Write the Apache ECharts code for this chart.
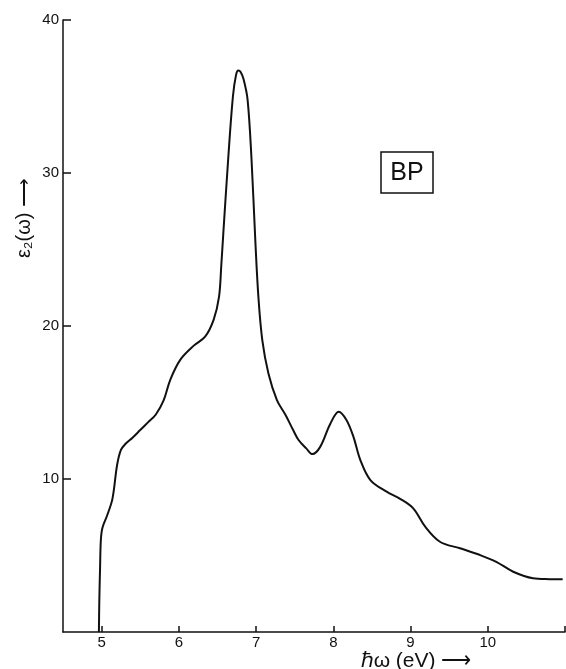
<!DOCTYPE html>
<html>
<head>
<meta charset="utf-8">
<script src="https://cdn.jsdelivr.net/npm/echarts@6/dist/echarts.min.js"></script>
<style>html,body{margin:0;padding:0;background:#fff}#c{width:566px;height:669px}</style>
</head>
<body>
<div id="c"></div>
<script>
// photon energy (eV)
const energy = [4.965, 4.97, 4.98, 4.99, 5.01, 5.07, 5.14, 5.20, 5.25, 5.31, 5.40, 5.50, 5.60, 5.70, 5.80, 5.89, 6.02, 6.19, 6.34, 6.45, 6.52, 6.55, 6.575, 6.64, 6.70, 6.74, 6.77, 6.80, 6.84, 6.89, 6.94, 6.99, 7.03, 7.08, 7.16, 7.27, 7.38, 7.48, 7.55, 7.65, 7.73, 7.83, 7.96, 8.07, 8.17, 8.26, 8.35, 8.48, 8.69, 8.87, 9.035, 9.19, 9.38, 9.64, 9.90, 10.11, 10.33, 10.585, 10.80, 10.97];
// epsilon_2
const eps2 = [0, 2.0, 4.2, 6.0, 6.8, 7.6, 8.7, 10.9, 11.9, 12.3, 12.7, 13.2, 13.7, 14.2, 15.1, 16.5, 17.8, 18.7, 19.3, 20.4, 21.9, 24.0, 26.0, 31.0, 35.0, 36.4, 36.7, 36.6, 36.1, 34.8, 31.0, 25.6, 21.9, 19.1, 16.9, 15.16, 14.2, 13.2, 12.55, 12.0, 11.63, 12.1, 13.6, 14.4, 13.86, 12.77, 11.24, 9.93, 9.17, 8.69, 8.08, 6.88, 5.90, 5.47, 5.03, 4.59, 3.94, 3.51, 3.45, 3.44];
const xTickLabels = [5, 6, 7, 8, 9, 10];
const xTicks = [5, 6, 7, 8, 9, 10, 11];
const yTickLabels = [10, 20, 30, 40];
const sampleLabel = 'BP';

const chart = echarts.init(document.getElementById('c'), null, {renderer: 'canvas'});
const FONT = 'Liberation Sans, Arial, sans-serif';
chart.setOption({
  animation: false,
  backgroundColor: '#fff',
  grid: {left: 63, right: 1, top: 20, bottom: 37, containLabel: false},
  xAxis: {
    type: 'value', min: 4.5, max: 11,
    axisLine: {show: true, onZero: false, lineStyle: {color: '#111', width: 1.5}},
    axisTick: {show: true, inside: true, length: 6, customValues: xTicks, lineStyle: {color: '#111', width: 1.5}},
    axisLabel: {show: true, customValues: xTickLabels, color: '#111', fontSize: 15, fontFamily: FONT, margin: 3},
    splitLine: {show: false}
  },
  yAxis: {
    type: 'value', min: 0, max: 40, interval: 10,
    axisLine: {show: true, onZero: false, lineStyle: {color: '#111', width: 1.5}},
    axisTick: {show: true, inside: true, length: 8, customValues: yTickLabels, lineStyle: {color: '#111', width: 1.5}},
    axisLabel: {show: true, customValues: yTickLabels, color: '#111', fontSize: 15, fontFamily: FONT, margin: 4},
    splitLine: {show: false}
  },
  series: [{
    type: 'line',
    data: energy.map((e, i) => [e, eps2[i]]),
    showSymbol: false,
    smooth: 0.35,
    lineStyle: {color: '#111', width: 2}
  }],
  graphic: [
    {type: 'rect', shape: {x: 381, y: 152, width: 52, height: 41}, style: {fill: 'none', stroke: '#111', lineWidth: 1.5}},
    {type: 'text', x: 407, y: 173, style: {text: sampleLabel, font: '25px ' + FONT, fill: '#111', align: 'center', verticalAlign: 'middle'}},
    {type: 'text', x: 416, y: 661, style: {text: 'ℏω (eV) ⟶', font: '21px ' + FONT, fill: '#111', align: 'center', verticalAlign: 'middle'}},
    {type: 'text', x: 24, y: 218, rotation: Math.PI / 2, style: {text: 'ε₂(ω) ⟶', font: '20px ' + FONT, fill: '#111', align: 'center', verticalAlign: 'middle'}}
  ]
});
</script>
</body>
</html>
